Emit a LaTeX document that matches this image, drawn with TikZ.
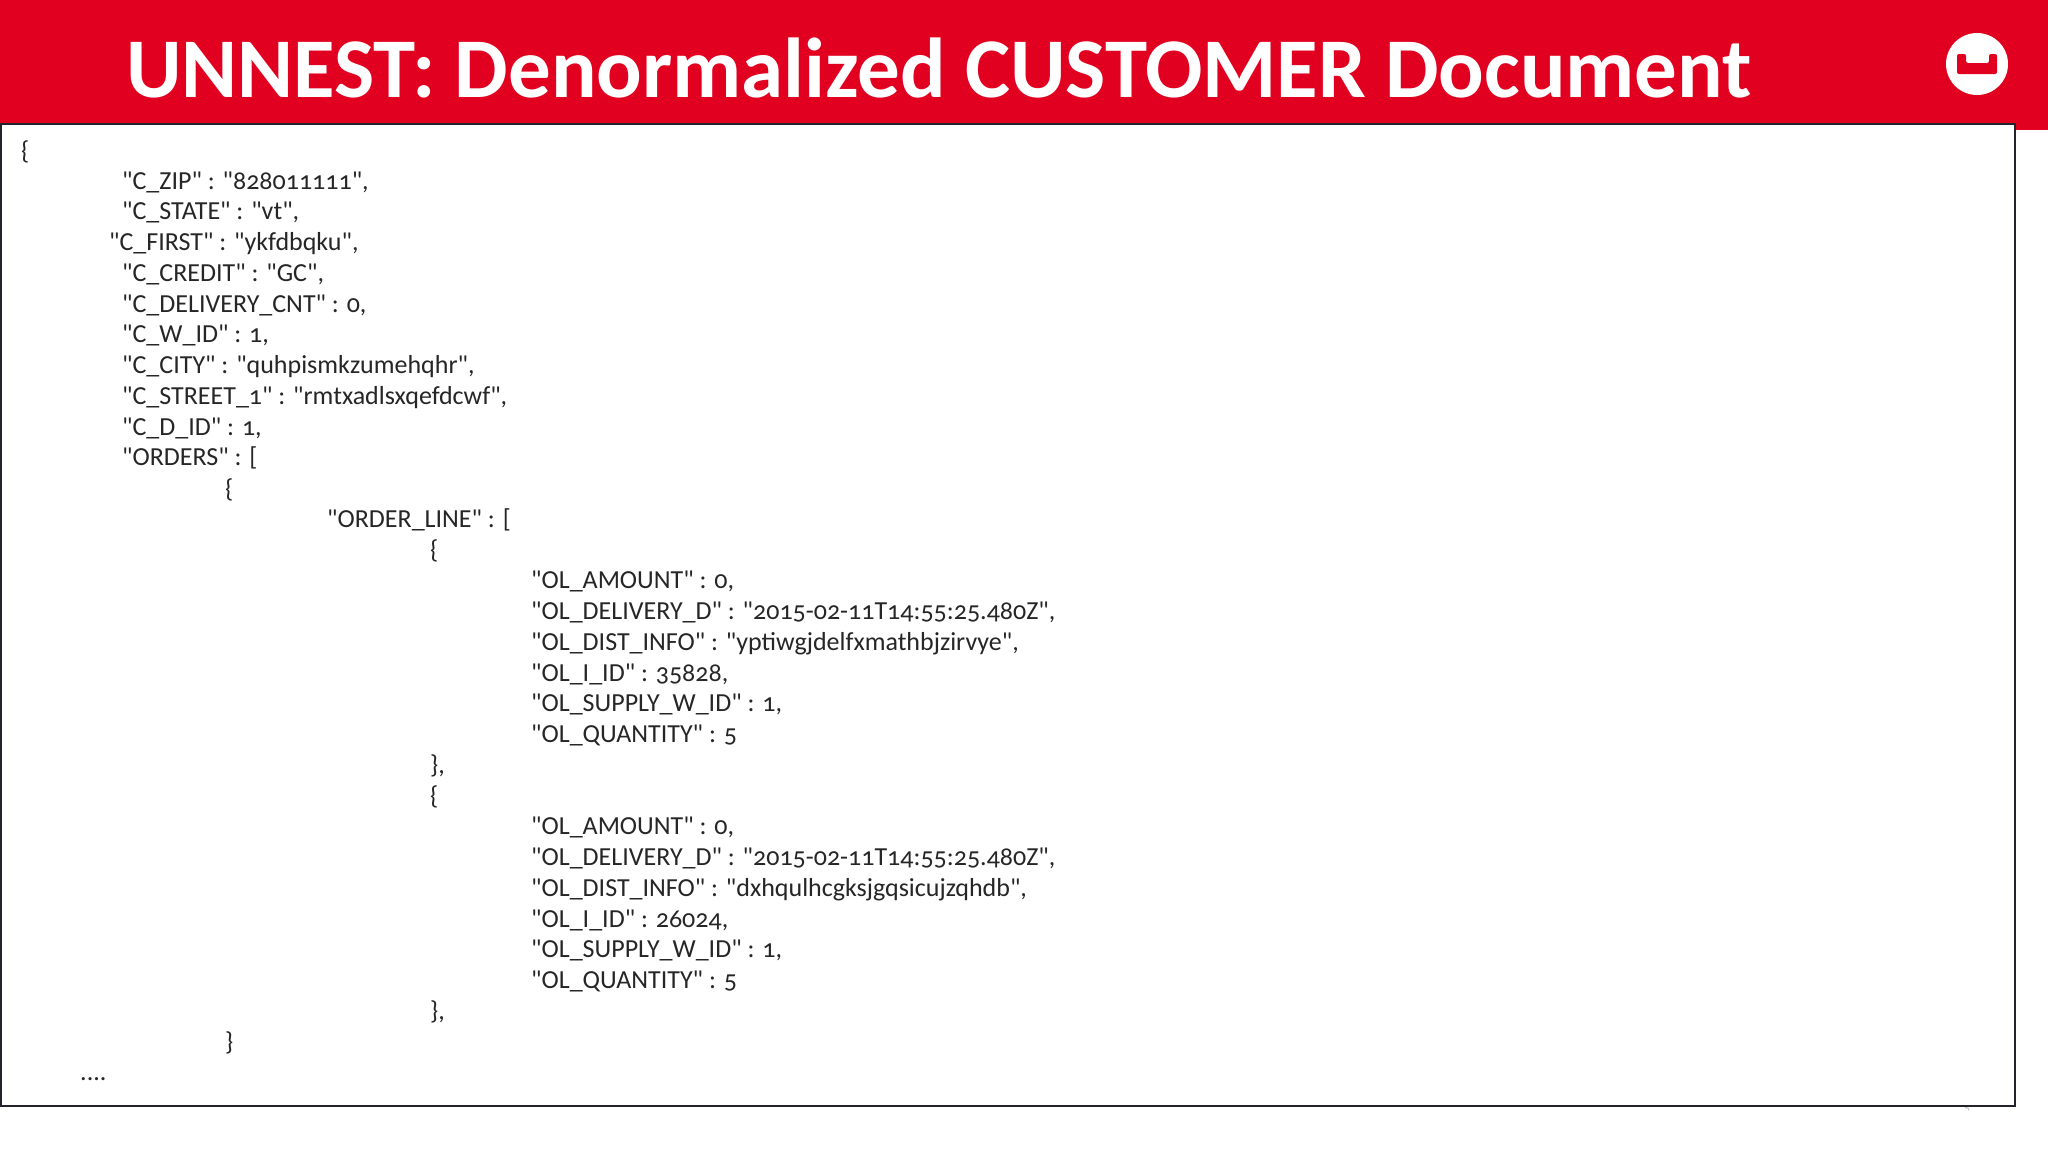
\documentclass[tikz,border=0pt]{standalone}
\usepackage{fontspec}
\setmainfont[Numbers=OldStyle,Ligatures=TeXOff]{Carlito}
\definecolor{cbred}{RGB}{226,0,32}
\definecolor{cbline}{RGB}{35,35,45}
\tikzset{
	jline/.style={anchor=base west,inner sep=0pt,text=black!85,font=\fontsize{26}{30}\selectfont},
	titletext/.style={anchor=base west,inner sep=0pt,text=white,font=\fontsize{85}{90}\selectfont\bfseries}
}

\begin{document}
\begin{tikzpicture}[x=1pt,y=-1pt]
	\useasboundingbox (0,0) rectangle (2048,1152);
	\fill[white] (0,0) rectangle (2048,1152);
	\fill[cbred] (0,0) rectangle (2048,130);
	\node[draw=cbline,line width=2pt,fill=white,minimum width=2014pt,minimum height=982pt,inner sep=0pt,anchor=north west] (sheet) at (0,123) {};
	\node[titletext] (title) at (126,97.5) {UNNEST: Denormalized CUSTOMER Document};
	% bucket logo
	\node[circle,fill=white,minimum size=62pt,inner sep=0pt] (logo) at (1977,64) {};
	\fill[cbred,rounded corners=2pt] (1957,54) -- (1966,54) -- (1966,63) -- (1989,63) -- (1989,54) -- (1997,54) -- (1997,74) -- (1957,74) -- cycle;
	% page number behind the sheet
	\draw[black!25,line width=1pt] (1965,1107.5) arc (250:360:3);
	% customer
	\node[jline] (l0) at (21,159.25) {\{};
	\node[jline] (l1) at (122,189) {"C\_ZIP" : "828011111",};
	\node[jline] (l2) at (122,219.75) {"C\_STATE" : "vt",};
	\node[jline] (l3) at (109,250.5) {"C\_FIRST" : "ykfdbqku",};
	\node[jline] (l4) at (122,281.25) {"C\_CREDIT" : "GC",};
	\node[jline] (l5) at (122,312) {"C\_DELIVERY\_CNT" : 0,};
	\node[jline] (l6) at (122,342.75) {"C\_W\_ID" : 1,};
	\node[jline] (l7) at (122,373.5) {"C\_CITY" : "quhpismkzumehqhr",};
	\node[jline] (l8) at (122,404.25) {"C\_STREET\_1" : "rmtxadlsxqefdcwf",};
	\node[jline] (l9) at (122,435) {"C\_D\_ID" : 1,};
	\node[jline] (l10) at (122,465.75) {"ORDERS" : [};
	\node[jline] (l11) at (225,497.5) {\{};
	\node[jline] (l12) at (327,527.25) {"ORDER\_LINE" : [};
	% first order line
	\node[jline] (l13) at (430,558) {\{};
	\node[jline] (l14) at (531,588.75) {"OL\_AMOUNT" : 0,};
	\node[jline] (l15) at (531,619.5) {"OL\_DELIVERY\_D" : "2015-02-11T14:55:25.480Z",};
	\node[jline] (l16) at (531,650.25) {"OL\_DIST\_INFO" : "yptiwgjdelfxmathbjzirvye",};
	\node[jline] (l17) at (531,681) {"OL\_I\_ID" : 35828,};
	\node[jline] (l18) at (531,711.75) {"OL\_SUPPLY\_W\_ID" : 1,};
	\node[jline] (l19) at (531,742.5) {"OL\_QUANTITY" : 5};
	\node[jline] (l20) at (430,773.25) {\},};
	% second order line
	\node[jline] (l21) at (430,804) {\{};
	\node[jline] (l22) at (531,834.75) {"OL\_AMOUNT" : 0,};
	\node[jline] (l23) at (531,865.5) {"OL\_DELIVERY\_D" : "2015-02-11T14:55:25.480Z",};
	\node[jline] (l24) at (531,896.25) {"OL\_DIST\_INFO" : "dxhqulhcgksjgqsicujzqhdb",};
	\node[jline] (l25) at (531,927) {"OL\_I\_ID" : 26024,};
	\node[jline] (l26) at (531,957.75) {"OL\_SUPPLY\_W\_ID" : 1,};
	\node[jline] (l27) at (531,988.5) {"OL\_QUANTITY" : 5};
	\node[jline] (l28) at (430,1019.25) {\},};
	\node[jline] (l29) at (225,1050) {\}};
	\node[jline] (l30) at (80,1080.75) {....};
\end{tikzpicture}
\end{document}
